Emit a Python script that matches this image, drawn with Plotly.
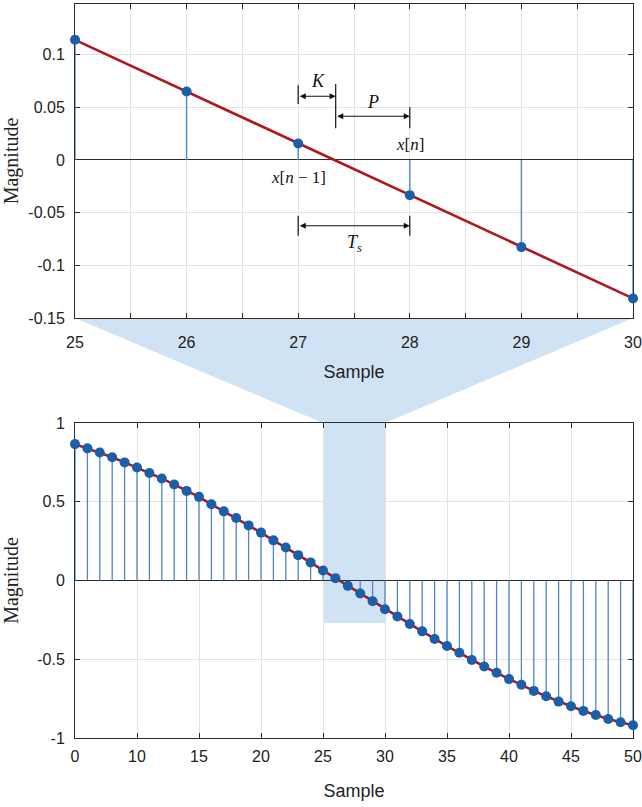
import plotly.graph_objects as go

# ---------------- data ----------------
top_n = [25, 26, 27, 28, 29, 30]
top_vals = [0.114, 0.065, 0.0156, -0.0334, -0.0827, -0.1314]

bot_n = list(range(5, 51))
bot_vals = [0.866, 0.839, 0.813, 0.782, 0.750, 0.718, 0.682, 0.648, 0.610, 0.569,
            0.531, 0.484, 0.439, 0.397, 0.350, 0.304, 0.255, 0.210, 0.161, 0.115,
            0.064, 0.015, -0.034, -0.083, -0.132, -0.183, -0.229, -0.276, -0.323, -0.371,
            -0.416, -0.459, -0.505, -0.546, -0.586, -0.626, -0.662, -0.701, -0.735, -0.769,
            -0.798, -0.828, -0.854, -0.879, -0.900, -0.919]

top_xticks = [25, 26, 27, 28, 29, 30]
top_xtick_text = ["25", "26", "27", "28", "29", "30"]
top_yticks = [-0.15, -0.1, -0.05, 0, 0.05, 0.1]
top_ytick_text = ["-0.15", "-0.1", "-0.05", "0", "0.05", "0.1"]

bot_xticks = [5, 10, 15, 20, 25, 30, 35, 40, 45, 50]
bot_xtick_text = ["0", "10", "15", "20", "25", "30", "35", "40", "45", "50"]
bot_yticks = [-1, -0.5, 0, 0.5, 1]
bot_ytick_text = ["-1", "-0.5", "0", "0.5", "1"]

zoom_lo, zoom_hi = 25, 30
zoom_box_bottom = -0.27

K_pos = 27.336

# ---------------- style ----------------
STEM = "#4f86c6"
MARK = "#1b5fa8"
RED = "#b0161e"
SHADE = "#d0e3f4"
GRID = "#e3e3e3"
AX = "#2b2b2b"
SANS = "Liberation Sans"
SERIF = "Liberation Serif"

top_xrange = [25, 30]
top_yrange = [-0.15, 0.148]
bot_xrange = [5, 50]
bot_yrange = [-1, 1]

W, H = 642, 807
ML, MR, MT, MB = 75, 9, 4, 69
ph = H - MT - MB
top_dom = [(738 - 318) / ph, 1.0]
bot_dom = [0.0, (738 - 423) / ph]


def stems(xs, ys):
    sx, sy = [], []
    for x, y in zip(xs, ys):
        sx += [x, x, None]
        sy += [0, y, None]
    return sx, sy


fig = go.Figure()

# top plot
sx, sy = stems(top_n, top_vals)
fig.add_trace(go.Scatter(x=sx, y=sy, mode="lines", line=dict(color=STEM, width=1.4),
                         xaxis="x", yaxis="y", hoverinfo="skip", cliponaxis=False))
fig.add_trace(go.Scatter(x=top_n, y=top_vals, mode="lines", line=dict(color=RED, width=2.6),
                         xaxis="x", yaxis="y", hoverinfo="skip"))
fig.add_trace(go.Scatter(x=top_n, y=top_vals, mode="markers", marker=dict(color=MARK, size=10),
                         xaxis="x", yaxis="y", cliponaxis=False))

# bottom plot
sx, sy = stems(bot_n, bot_vals)
fig.add_trace(go.Scatter(x=sx, y=sy, mode="lines", line=dict(color=STEM, width=1.3),
                         xaxis="x2", yaxis="y2", hoverinfo="skip", cliponaxis=False))
fig.add_trace(go.Scatter(x=bot_n, y=bot_vals, mode="lines", line=dict(color=RED, width=2.6),
                         xaxis="x2", yaxis="y2", hoverinfo="skip"))
fig.add_trace(go.Scatter(x=bot_n, y=bot_vals, mode="markers", marker=dict(color=MARK, size=10),
                         xaxis="x2", yaxis="y2", cliponaxis=False))

axis_common = dict(showline=True, linecolor=AX, linewidth=1, mirror="ticks",
                   ticks="inside", ticklen=5, tickcolor=AX, gridcolor=GRID, gridwidth=1,
                   tickfont=dict(family=SANS, size=16, color="#222"), automargin=False,
                   layer="below traces")

xaxis_common = dict(zeroline=False, **axis_common)
yaxis_common = dict(zeroline=True, zerolinecolor=AX, zerolinewidth=1.2, **axis_common)

fig.update_layout(
    width=W, height=H,
    margin=dict(l=ML, r=MR, t=MT, b=MB),
    paper_bgcolor="white", plot_bgcolor="rgba(0,0,0,0)",
    showlegend=False,
    xaxis=dict(domain=[0, 1], anchor="y", range=top_xrange, tickmode="array",
               tickvals=top_xticks, ticktext=top_xtick_text, ticklabelstandoff=10,
               minor=dict(dtick=0.5, tick0=25, showgrid=True, gridcolor=GRID, ticks="inside",
                          ticklen=5, tickcolor=AX),
               title=dict(text="Sample", font=dict(family=SANS, size=18, color="#222"), standoff=15),
               **xaxis_common),
    yaxis=dict(domain=top_dom, anchor="x", range=top_yrange, tickmode="array",
               tickvals=top_yticks, ticktext=top_ytick_text, ticklabelstandoff=6,
               title=dict(text="Magnitude", font=dict(family=SERIF, size=20, color="#222"), standoff=6),
               **yaxis_common),
    xaxis2=dict(domain=[0, 1], anchor="y2", range=bot_xrange, tickmode="array",
                tickvals=bot_xticks, ticktext=bot_xtick_text, ticklabelstandoff=4,
                title=dict(text="Sample", font=dict(family=SANS, size=18, color="#222"), standoff=20),
                **xaxis_common),
    yaxis2=dict(domain=bot_dom, anchor="x2", range=bot_yrange, tickmode="array",
                tickvals=bot_yticks, ticktext=bot_ytick_text, ticklabelstandoff=6,
                title=dict(text="Magnitude", font=dict(family=SERIF, size=20, color="#222"), standoff=14),
                **yaxis_common),
)

shapes = []
# zoom rectangle in the bottom plot
shapes.append(dict(type="rect", xref="x2", yref="y2", x0=zoom_lo, x1=zoom_hi,
                   y0=zoom_box_bottom, y1=bot_yrange[1], fillcolor=SHADE,
                   line=dict(width=0), layer="below"))


# funnel between plots (paper coords derived from axes)
def xp(v):
    return (v - bot_xrange[0]) / (bot_xrange[1] - bot_xrange[0])


y_top = top_dom[0]
y_bot = bot_dom[1]
path = f"M 0 {y_top} L 1 {y_top} L {xp(zoom_hi)} {y_bot} L {xp(zoom_lo)} {y_bot} Z"
shapes.append(dict(type="path", xref="paper", yref="paper", path=path,
                   fillcolor=SHADE, line=dict(width=0), layer="below"))

# marker bars for annotation
bars = [(27, 0.053, 0.071), (K_pos, 0.030, 0.072), (28, 0.030, 0.050),
        (27, -0.072, -0.053), (28, -0.072, -0.053)]
for bx, b0, b1 in bars:
    shapes.append(dict(type="line", xref="x", yref="y", x0=bx, x1=bx, y0=b0, y1=b1,
                       line=dict(color="#111", width=1.2)))
fig.update_layout(shapes=shapes)

ann = []
# double arrows
for x0, x1, yy in [(27, K_pos, 0.0605), (K_pos, 28, 0.0415), (27, 28, -0.0625)]:
    ann.append(dict(x=x1, y=yy, ax=x0, ay=yy, xref="x", yref="y", axref="x", ayref="y",
                    text="", showarrow=True, arrowhead=2, arrowsize=1.1, arrowwidth=1.1,
                    startarrowhead=2, startarrowsize=1.1, arrowside="end+start", arrowcolor="#111"))
lab_font = dict(family=SERIF, size=18, color="#111")
ann += [
    dict(x=27.18, y=0.075, text="<i>K</i>", showarrow=False, xref="x", yref="y", font=lab_font),
    dict(x=27.67, y=0.055, text="<i>P</i>", showarrow=False, xref="x", yref="y", font=lab_font),
    dict(x=28.0, y=0.0145, text="<i>x</i>[<i>n</i>]", showarrow=False, xref="x", yref="y",
         font=dict(family=SERIF, size=17, color="#111")),
    dict(x=27.0, y=-0.017, text="<i>x</i>[<i>n</i> − 1]", showarrow=False, xref="x", yref="y",
         font=dict(family=SERIF, size=17, color="#111")),
    dict(x=27.5, y=-0.079, text="<i>T<sub>s</sub></i>", showarrow=False, xref="x", yref="y",
         font=lab_font),
]
fig.update_layout(annotations=ann)

fig.write_html("out.html")
